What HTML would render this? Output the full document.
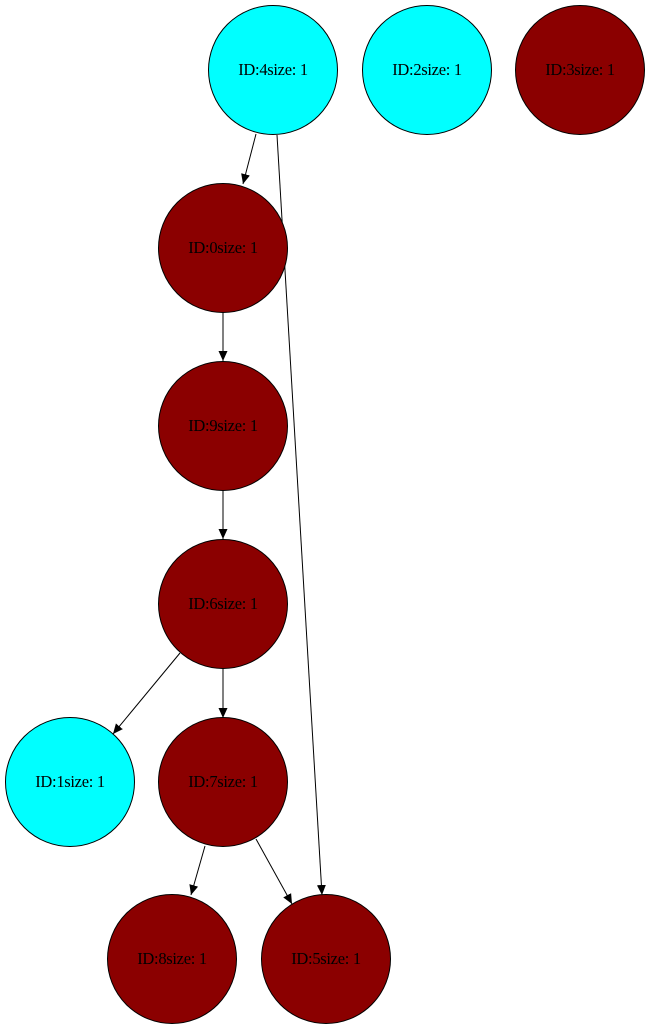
<!DOCTYPE html>
<html><head><meta charset="utf-8"><style>
html,body{margin:0;padding:0;background:#fff;}
svg{display:block;}
text{font-family:"Liberation Serif",serif;font-size:16.5px;text-anchor:middle;letter-spacing:-0.3px;}
</style></head><body>
<svg width="651" height="1030" viewBox="0 0 651 1030" xmlns="http://www.w3.org/2000/svg">
<defs><marker id="a" markerWidth="10" markerHeight="10" refX="10" refY="5" orient="auto" markerUnits="userSpaceOnUse"><path d="M0,0.5 L10,5 L0,9.5 z" fill="#000"/></marker></defs>
<g stroke="#000" stroke-width="1" fill="none">
<line x1="256" y1="134" x2="243" y2="184" marker-end="url(#a)"/>
<line x1="277" y1="135" x2="322" y2="895" marker-end="url(#a)"/>
<line x1="223" y1="313" x2="223" y2="361" marker-end="url(#a)"/>
<line x1="223" y1="491" x2="223" y2="539" marker-end="url(#a)"/>
<line x1="180" y1="653" x2="113" y2="734" marker-end="url(#a)"/>
<line x1="223" y1="669" x2="223" y2="718" marker-end="url(#a)"/>
<line x1="205" y1="846" x2="191" y2="895" marker-end="url(#a)"/>
<line x1="256" y1="839" x2="292" y2="904" marker-end="url(#a)"/>
</g>
<g stroke="#000" stroke-width="1">
<circle cx="273" cy="70" r="64.5" fill="#00ffff"/>
<circle cx="427" cy="70" r="64.5" fill="#00ffff"/>
<circle cx="580" cy="70" r="64.5" fill="#8b0000"/>
<circle cx="223" cy="248" r="64.5" fill="#8b0000"/>
<circle cx="223" cy="426" r="64.5" fill="#8b0000"/>
<circle cx="223" cy="604" r="64.5" fill="#8b0000"/>
<circle cx="70" cy="782" r="64.5" fill="#00ffff"/>
<circle cx="223" cy="782" r="64.5" fill="#8b0000"/>
<circle cx="172" cy="959" r="64.5" fill="#8b0000"/>
<circle cx="326" cy="959" r="64.5" fill="#8b0000"/>
</g>
<text x="273" y="75">ID:4size: 1</text>
<text x="427" y="75">ID:2size: 1</text>
<text x="580" y="75">ID:3size: 1</text>
<text x="223" y="253">ID:0size: 1</text>
<text x="223" y="431">ID:9size: 1</text>
<text x="223" y="609">ID:6size: 1</text>
<text x="70" y="787">ID:1size: 1</text>
<text x="223" y="787">ID:7size: 1</text>
<text x="172" y="964">ID:8size: 1</text>
<text x="326" y="964">ID:5size: 1</text>
</svg>
</body></html>
